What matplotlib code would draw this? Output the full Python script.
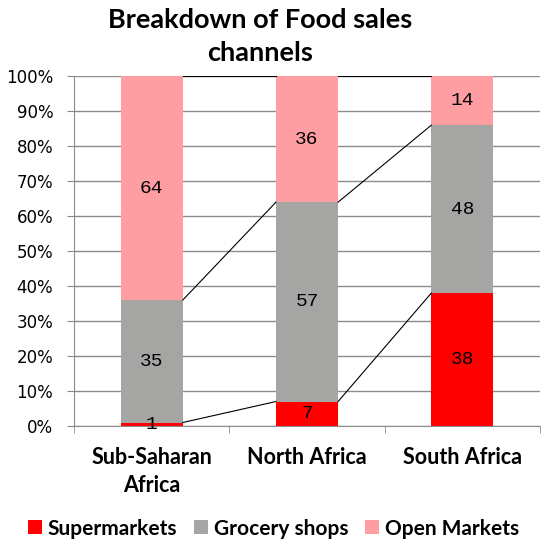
import numpy as np
import matplotlib.pyplot as plt

regions = ['Sub-Saharan\nAfrica', 'North Africa', 'South Africa']
series = ['Supermarkets', 'Grocery shops', 'Open Markets']
supermarkets = [1, 7, 38]
grocery = [35, 57, 48]
open_markets = [64, 36, 14]
colors = ['#ff0000', '#a5a6a4', '#ff9ea2']

values = np.array([supermarkets, grocery, open_markets], dtype=float)

fig = plt.figure(figsize=(5.47, 5.44), dpi=100)
ax = fig.add_axes([0.1353, 0.2169, 0.852, 0.643])

x = np.arange(len(regions))
width = 0.40
bottom = np.zeros(len(regions))
for vals, name, col in zip(values, series, colors):
    ax.bar(x, vals, width, bottom=bottom, color=col, label=name, zorder=2)
    for xi, v, b in zip(x, vals, bottom):
        ax.text(xi, b + v / 2, f'{int(v)}', ha='center', va='center',
                family='Liberation Mono', fontsize=14, zorder=4)
    bottom = bottom + vals

# series lines between bars (incl. top at 100%)
cum = np.cumsum(values, axis=0)
for level in cum:
    for i in range(len(regions) - 1):
        ax.plot([x[i] + width / 2, x[i + 1] - width / 2], [level[i], level[i + 1]],
                color='black', lw=0.8, zorder=3)

ax.set_xlim(-0.5, len(regions) - 0.5)
ax.set_ylim(0, 100)
ax.set_yticks(np.arange(0, 101, 10))
ax.set_yticklabels([f'{v}%' for v in range(0, 101, 10)], fontsize=12)
ax.yaxis.grid(True, color='#8c8c8c', lw=1, zorder=0)
ax.set_xticks(x)
ax.set_xticklabels(regions, fontsize=15.5, fontweight='bold', family='Lato',
                   linespacing=1.4)
ax.set_xticks(np.arange(-0.5, len(regions)), minor=True)
ax.tick_params(axis='x', which='major', length=0, pad=15)
ax.tick_params(axis='x', which='minor', length=5, color='#8c8c8c')
ax.tick_params(axis='y', length=5, color='#8c8c8c', pad=10)
for s in ['top', 'right']:
    ax.spines[s].set_visible(False)
for s in ['left', 'bottom']:
    ax.spines[s].set_color('#8c8c8c')

fig.text(0.476, 0.933, 'Breakdown of Food sales\nchannels', ha='center', va='center',
         fontsize=19.5, fontweight='bold', family='Lato', linespacing=1.45)

fig.legend(loc='center', bbox_to_anchor=(0.5, 0.028), ncol=3, frameon=False,
           prop={'family': 'Lato', 'weight': 'bold', 'size': 15},
           handlelength=0.65, handleheight=0.65, handletextpad=0.3, columnspacing=0.8)

fig.savefig('out.png', dpi=100)
